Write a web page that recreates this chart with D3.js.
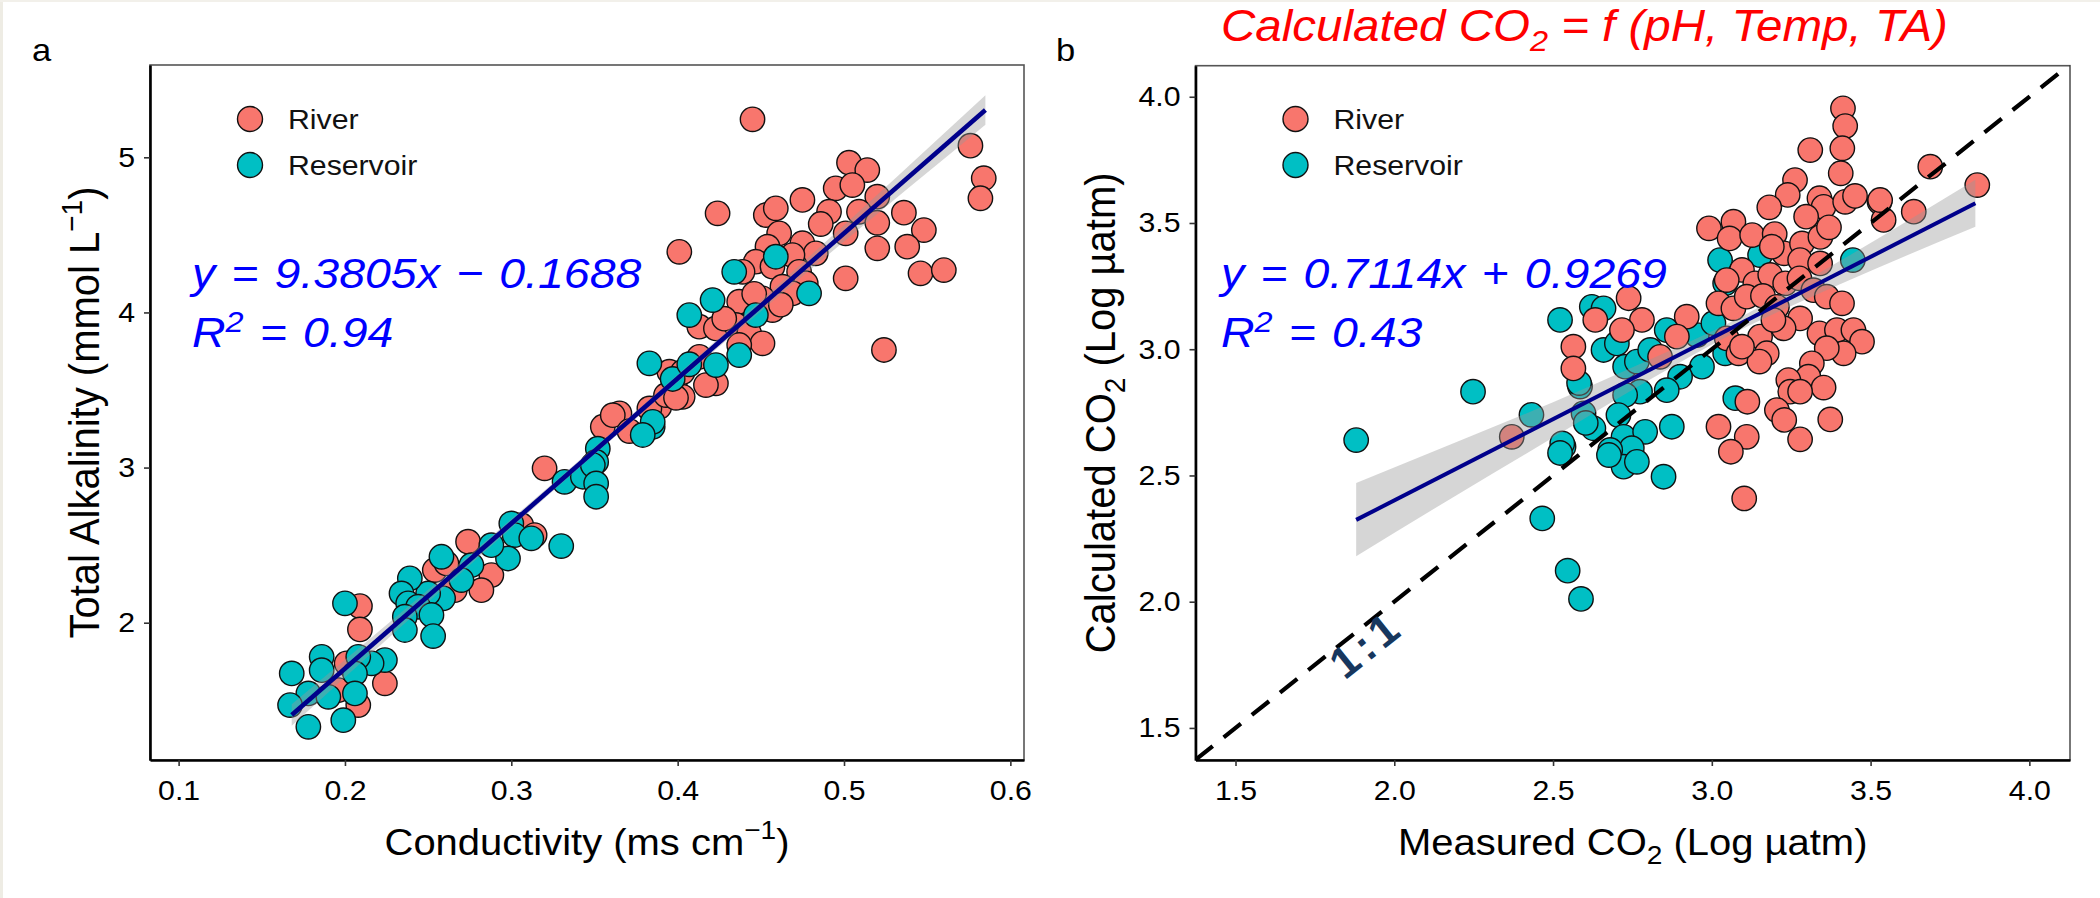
<!DOCTYPE html>
<html>
<head>
<meta charset="utf-8">
<script src="https://d3js.org/d3.v7.min.js"></script>
<style>
  body { margin: 0; background: #fff; }
  svg text { font-family: "Liberation Sans", Arial, sans-serif; }
</style>
</head>
<body>
<div id="chart"></div>
<script>
// ---------------- data, panel a (conductivity vs alkalinity) ----------------
var riverA_x = [0.445,0.576,0.584,0.582,0.503,0.514,0.495,0.505,0.475,0.520,0.491,0.509,0.424,0.453,0.459,0.536,0.520,0.548,0.501,0.461,
                0.454,0.475,0.401,0.520,0.538,0.483,0.469,0.447,0.457,0.546,0.560,0.501,0.439,0.473,0.463,0.477,0.469,0.437,0.451,0.457,
                0.524,0.413,0.423,0.435,0.443,0.451,0.437,0.413,0.395,0.423,0.417,0.399,0.403,0.389,0.355,0.365,0.361,0.371,0.383,0.393,
                0.403,0.399,0.320,0.306,0.314,0.274,0.254,0.261,0.288,0.282,0.266,0.209,0.209,0.224,0.208,0.196,0.201,
                0.446,0.428,0.462,0.486];
var riverA_y = [5.245,5.075,4.865,4.736,4.965,4.918,4.800,4.821,4.725,4.746,4.649,4.649,4.639,4.628,4.671,4.643,4.578,4.531,4.510,4.510,
                4.424,4.446,4.391,4.413,4.424,4.381,4.370,4.327,4.295,4.252,4.273,4.220,4.262,4.262,4.166,4.188,4.123,4.069,4.091,4.015,
                3.758,3.908,3.897,3.919,3.865,3.801,3.790,3.714,3.618,3.543,3.532,3.500,3.456,3.392,3.263,3.350,3.338,3.235,3.381,3.467,
                3.616,3.450,2.995,2.629,2.565,2.522,2.339,2.382,2.307,2.210,2.210,2.107,1.957,1.609,1.469,1.566,1.738,
                4.120,3.960,4.050,4.570];
var resA_x = [0.459,0.434,0.479,0.421,0.407,0.447,0.437,0.383,0.423,0.385,0.352,0.351,0.385,0.379,0.397,0.407,0.332,0.343,0.349,0.351,
              0.351,0.330,0.300,0.302,0.312,0.298,0.288,0.276,0.270,0.258,0.259,0.250,0.239,0.234,0.238,0.244,0.252,0.236,0.236,0.253,
              0.200,0.186,0.224,0.216,0.208,0.206,0.186,0.168,0.178,0.190,0.206,0.167,0.178,0.199];
var resA_y = [4.359,4.262,4.123,4.080,3.983,3.983,3.725,3.672,3.661,3.263,3.122,3.036,3.295,3.210,3.571,3.666,2.908,2.941,3.016,2.898,
              2.812,2.494,2.640,2.565,2.544,2.414,2.500,2.371,2.275,2.425,2.157,2.189,2.286,2.189,2.125,2.103,2.050,2.039,1.953,1.914,
              2.125,1.780,1.759,1.738,1.780,1.673,1.694,1.673,1.544,1.522,1.544,1.469,1.329,1.372];
var fitA_x = [0.168, 0.585];
var fitA_y = [1.405, 5.305];
var bandA_x  = [0.168, 0.25, 0.33, 0.40, 0.48, 0.585];
var bandA_lo = [1.335, 2.132, 2.895, 3.550, 4.278, 5.210];
var bandA_hi = [1.475, 2.212, 2.945, 3.600, 4.368, 5.400];
var ticksA_x = [0.1, 0.2, 0.3, 0.4, 0.5, 0.6];
var ticksA_y = [2, 3, 4, 5];

// ---------------- data, panel b (measured vs calculated CO2) ----------------
var riverB_x = [3.413,3.420,3.310,3.411,3.406,3.262,3.239,3.181,3.339,3.352,3.297,3.420,3.451,3.528,3.541,2.991,3.068,3.056,3.127,3.198,
                3.227,3.284,3.342,3.369,3.189,3.278,3.341,3.095,3.047,3.137,3.184,3.231,3.276,3.320,3.362,3.410,3.021,3.068,3.110,3.161,
                3.205,3.278,3.226,3.152,3.047,3.084,3.173,3.150,3.339,3.394,3.446,3.473,3.415,3.362,3.315,3.304,3.241,3.247,3.352,3.278,
                3.205,3.228,3.373,3.112,3.021,3.110,3.060,3.278,2.921,2.890,2.837,2.780,2.738,2.633,2.564,2.564,2.717,3.095,3.194,3.836,
                3.688,3.636,3.530,2.370,3.102];
var riverB_y = [3.954,3.884,3.789,3.796,3.697,3.670,3.611,3.562,3.598,3.564,3.525,3.584,3.607,3.584,3.512,3.479,3.505,3.439,3.452,3.456,
                3.380,3.419,3.445,3.483,3.406,3.353,3.340,3.314,3.274,3.261,3.294,3.261,3.281,3.234,3.208,3.182,3.182,3.162,3.208,3.211,
                3.168,3.122,3.083,3.050,3.043,2.984,2.984,2.951,3.063,3.076,3.076,3.030,2.984,3.004,2.944,2.891,2.878,2.832,2.848,2.832,
                2.759,2.720,2.722,2.792,2.693,2.653,2.594,2.643,3.129,3.050,2.970,3.116,3.202,3.116,3.010,2.924,3.076,3.010,3.116,3.650,
                3.723,3.545,3.591,2.653,2.409];
var resB_x = [3.026,3.042,3.152,3.444,2.622,2.659,2.522,2.659,2.701,2.727,2.764,2.806,2.858,2.953,3.005,3.042,2.969,2.900,2.858,2.774,
              2.727,2.585,2.596,2.627,2.706,2.722,2.790,2.748,2.680,2.533,2.874,3.074,2.722,2.764,2.848,2.248,1.880,2.432,2.529,2.582,
              2.603,2.466,2.546,2.588,2.522,2.676];
var resB_y = [3.353,3.261,3.373,3.353,3.168,3.162,3.116,2.997,3.023,2.931,2.951,2.997,3.076,3.056,3.103,2.984,2.931,2.891,2.838,2.832,
              2.819,2.852,2.746,2.687,2.739,2.653,2.673,2.608,2.601,2.614,2.693,2.806,2.535,2.554,2.495,2.832,2.640,2.740,2.627,2.866,
              2.708,2.330,2.123,2.011,2.589,2.581];
var fitB_x = [1.88, 3.83];
var fitB_y = [2.324, 3.578];
var bandB_x  = [1.88, 2.2, 2.5, 2.8, 3.07, 3.4, 3.83];
var bandB_lo = [2.180, 2.425, 2.650, 2.876, 3.064, 3.255, 3.485];
var bandB_hi = [2.470, 2.635, 2.790, 2.956, 3.114, 3.347, 3.671];
var ticksB = [1.5, 2.0, 2.5, 3.0, 3.5, 4.0];

var groups = ['River', 'Reservoir'];
var groupColors = ['#F8766D', '#00BFC4'];

// ---------------- layout ----------------
var SX = 1.08;      // the figure text is a little wide
var W = 2100, H = 898;
var svg = d3.select('#chart').append('svg').attr('width', W).attr('height', H);

svg.append('rect').attr('x', 0).attr('y', 0).attr('width', W).attr('height', H).attr('fill', '#fff');
svg.append('rect').attr('x', 0).attr('y', 0).attr('width', 3).attr('height', H).attr('fill', '#eeece4');
svg.append('rect').attr('x', 0).attr('y', 0).attr('width', W).attr('height', 2).attr('fill', '#f2f0ea');

// text helper, stretched horizontally
function stext(x, y, anchor) {
    return svg.append('text')
        .attr('transform', `translate(${x},${y}) scale(${SX},1)`)
        .attr('text-anchor', anchor || 'start');
}

function drawPanel(p) {
    var xs = d3.scaleLinear().domain(p.xDomain).range([p.left, p.right]);
    var ys = d3.scaleLinear().domain(p.yDomain).range([p.bottom, p.top]);

    var clipId = 'clip-' + p.id;
    svg.append('clipPath').attr('id', clipId)
        .append('rect').attr('x', p.left).attr('y', p.top)
        .attr('width', p.right - p.left).attr('height', p.bottom - p.top);

    // panel border (top / right stay grey)
    svg.append('rect')
        .attr('x', p.left).attr('y', p.top)
        .attr('width', p.right - p.left).attr('height', p.bottom - p.top)
        .attr('fill', 'none').attr('stroke', '#555').attr('stroke-width', 1.6);

    var plot = svg.append('g').attr('clip-path', `url(#${clipId})`);

    // points
    p.series.forEach(function (s) {
        plot.append('g').selectAll('circle')
            .data(d3.range(s.x.length))
            .enter()
            .append('circle')
            .attr('cx', i => xs(s.x[i]))
            .attr('cy', i => ys(s.y[i]))
            .attr('r', 12.2)
            .attr('fill', s.color)
            .attr('stroke', '#111')
            .attr('stroke-width', 1.4);
    });

    // confidence band
    var area = d3.area()
        .x(i => xs(p.band.x[i]))
        .y0(i => ys(p.band.lo[i]))
        .y1(i => ys(p.band.hi[i]))
        .curve(d3.curveMonotoneX);
    plot.append('path')
        .attr('d', area(d3.range(p.band.x.length)))
        .attr('fill', '#999')
        .attr('fill-opacity', 0.4);

    // fitted line
    var line = d3.line().x(i => xs(p.fit.x[i])).y(i => ys(p.fit.y[i]));
    plot.append('path')
        .attr('d', line(d3.range(p.fit.x.length)))
        .attr('fill', 'none')
        .attr('stroke', '#00008B')
        .attr('stroke-width', p.fitWidth);

    if (p.oneToOne) {
        var d0 = p.xDomain[0], d1 = p.xDomain[1];
        plot.append('line')
            .attr('x1', xs(d0)).attr('y1', ys(d0))
            .attr('x2', xs(d1)).attr('y2', ys(d1))
            .attr('stroke', '#000')
            .attr('stroke-width', 4.2)
            .attr('stroke-dasharray', '22,14');
        var ang = Math.atan2(ys(3) - ys(2), xs(3) - xs(2)) * 180 / Math.PI;
        svg.append('text')
            .attr('transform', `translate(${xs(1.911)},${ys(1.832)}) rotate(${ang})`)
            .attr('text-anchor', 'middle')
            .attr('dy', '0.35em')
            .attr('font-family', '"Liberation Serif", "DejaVu Serif", serif')
            .attr('font-size', 44)
            .attr('font-weight', 'bold')
            .attr('letter-spacing', 5)
            .attr('fill', '#17375E')
            .text('1:1');
    }

    // axes
    var xAxis = d3.axisBottom(xs).tickValues(p.xTicks).tickFormat(p.xFmt)
        .tickSize(6).tickPadding(14).tickSizeOuter(0);
    var yAxis = d3.axisLeft(ys).tickValues(p.yTicks).tickFormat(p.yFmt)
        .tickSize(6).tickPadding(9).tickSizeOuter(0);

    var gx = svg.append('g').attr('transform', `translate(0,${p.bottom})`).call(xAxis);
    var gy = svg.append('g').attr('transform', `translate(${p.left},0)`).call(yAxis);
    [gx, gy].forEach(function (g) {
        g.attr('font-size', 28).attr('font-family', '"Liberation Sans", Arial, sans-serif');
        g.select('.domain').attr('stroke', '#000').attr('stroke-width', 2.6);
        g.selectAll('.tick line').attr('stroke', '#333').attr('stroke-width', 1.6);
        g.selectAll('.tick text').attr('fill', '#000');
    });
    gx.selectAll('.tick text').attr('transform', `scale(${SX},1)`);
    gy.selectAll('.tick text').attr('x', -15 / SX).attr('transform', `scale(${SX},1)`);

    // legend
    groups.forEach(function (name, i) {
        svg.append('circle')
            .attr('cx', p.left + 100).attr('cy', 119 + i * 46).attr('r', 12.5)
            .attr('fill', groupColors[i]).attr('stroke', '#111').attr('stroke-width', 1.4);
        stext(p.left + 138, 129 + i * 46).attr('font-size', 28).attr('fill', '#111').text(name);
    });

    // equation
    stext(p.left + p.eqDx, 288).attr('font-size', 43).attr('font-style', 'italic')
        .attr('fill', '#0000FF').attr('word-spacing', 3).text(p.eq);
    var r2 = stext(p.left + p.eqDx, 347).attr('font-size', 43).attr('font-style', 'italic')
        .attr('fill', '#0000FF');
    r2.append('tspan').text('R');
    r2.append('tspan').attr('font-size', 30).attr('dy', -15).text('2');
    r2.append('tspan').attr('dy', 15).attr('word-spacing', 3).text(' = ' + p.r2);

    // panel letter
    stext(p.letterX, 61).attr('font-size', 32).attr('fill', '#000').text(p.letter);

    // axis titles
    var xt = stext((p.left + p.right) / 2, 855, 'middle').attr('font-size', 37).attr('fill', '#000');
    p.xTitle(xt);
    var yt = svg.append('text')
        .attr('transform', `translate(${p.yTitleX},${(p.top + p.bottom) / 2}) scale(${SX},1) rotate(-90)`)
        .attr('text-anchor', 'middle').attr('font-size', 40).attr('fill', '#000');
    p.yTitle(yt);
}

drawPanel({
    id: 'a', left: 150, right: 1024, top: 65, bottom: 760,
    xDomain: [0.0828, 0.6082], yDomain: [1.115, 5.595],
    xTicks: ticksA_x, yTicks: ticksA_y,
    xFmt: d3.format('.1f'), yFmt: d3.format('d'),
    series: [
        { x: riverA_x, y: riverA_y, color: groupColors[0] },
        { x: resA_x, y: resA_y, color: groupColors[1] }
    ],
    band: { x: bandA_x, lo: bandA_lo, hi: bandA_hi },
    fit: { x: fitA_x, y: fitA_y }, fitWidth: 4.6,
    oneToOne: false,
    eqDx: 42, eq: 'y = 9.3805x \u2212 0.1688', r2: '0.94',
    letter: 'a', letterX: 32,
    yTitleX: 99,
    xTitle: function (t) {
        t.append('tspan').text('Conductivity (ms cm');
        t.append('tspan').attr('font-size', 26).attr('dy', -16).text('\u22121');
        t.append('tspan').attr('dy', 16).text(')');
    },
    yTitle: function (t) {
        t.append('tspan').text('Total Alkalinity (mmol L');
        t.append('tspan').attr('font-size', 28).attr('dy', -16).text('\u22121');
        t.append('tspan').attr('dy', 16).text(')');
    }
});

drawPanel({
    id: 'b', left: 1195.5, right: 2070, top: 65.7, bottom: 760,
    xDomain: [1.374, 4.128], yDomain: [1.373, 4.123],
    xTicks: ticksB, yTicks: ticksB,
    xFmt: d3.format('.1f'), yFmt: d3.format('.1f'),
    series: [
        { x: resB_x, y: resB_y, color: groupColors[1] },
        { x: riverB_x, y: riverB_y, color: groupColors[0] }
    ],
    band: { x: bandB_x, lo: bandB_lo, hi: bandB_hi },
    fit: { x: fitB_x, y: fitB_y }, fitWidth: 4,
    oneToOne: true,
    eqDx: 25.5, eq: 'y = 0.7114x + 0.9269', r2: '0.43',
    letter: 'b', letterX: 1056,
    yTitleX: 1115,
    xTitle: function (t) {
        t.append('tspan').text('Measured CO');
        t.append('tspan').attr('font-size', 26).attr('dy', 9).text('2');
        t.append('tspan').attr('dy', -9).text(' (Log \u00b5atm)');
    },
    yTitle: function (t) {
        t.append('tspan').text('Calculated CO');
        t.append('tspan').attr('font-size', 28).attr('dy', 9).text('2');
        t.append('tspan').attr('dy', -9).text(' (Log \u00b5atm)');
    }
});

// title over panel b (kept fully inside the top edge)
var title = stext(1221, 41).attr('font-size', 44).attr('font-style', 'italic').attr('fill', '#FF0000');
title.append('tspan').text('Calculated CO');
title.append('tspan').attr('font-size', 30).attr('dy', 10).text('2');
title.append('tspan').attr('dy', -10).text(' = f (pH, Temp, TA)');
</script>
</body>
</html>
